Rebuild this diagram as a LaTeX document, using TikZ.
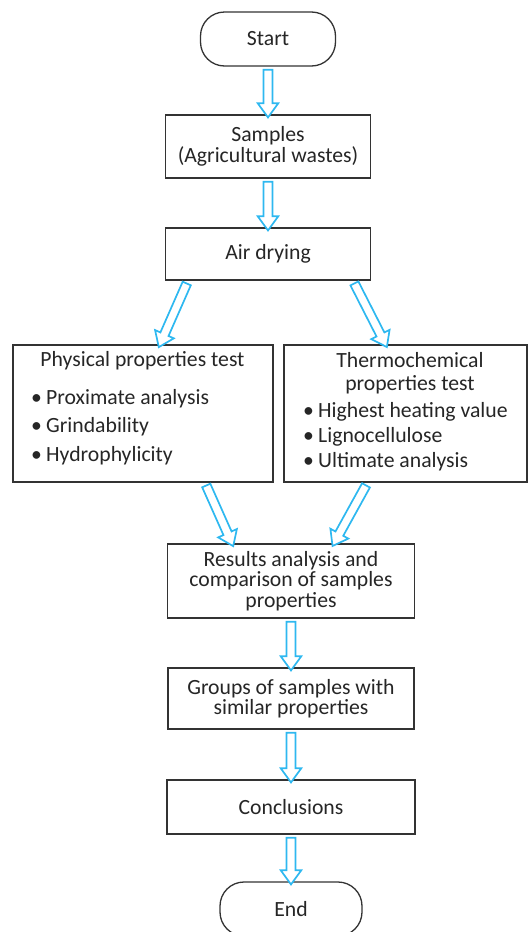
\documentclass[tikz,border=0pt]{standalone}
\usepackage{fontspec}
\setmainfont{Carlito}
\usetikzlibrary{calc,shapes.arrows}
\definecolor{arrowblue}{HTML}{2EB8F0}
\definecolor{boxline}{HTML}{333333}
\definecolor{textgray}{HTML}{262626}

\tikzset{
  box/.style={draw=boxline, line width=1.3pt, fill=white, align=center, inner sep=0pt},
  terminal/.style={box, rounded corners=24pt},
  hollow arrow/.style={single arrow, draw=arrowblue, line width=1.7pt, fill=white,
    inner sep=3.6pt, single arrow head extend=5.8pt, single arrow tip angle=72, minimum width=0pt}
}

\begin{document}
\begin{tikzpicture}[x=1pt, y=-1pt, font=\fontsize{21.7}{20.5}\selectfont, text=textgray]
          \useasboundingbox (0,0) rectangle (528,932);
          % main column
          \node[terminal, minimum width=135pt, minimum height=54pt] (start) at (268,39) {Start};
          \node[box, minimum width=205pt, minimum height=63pt] (samples) at (268,146.5) {Samples\\(Agricultural wastes)};
          \node[box, minimum width=205pt, minimum height=52pt] (air) at (268,254) {Air drying};
          % the two tests
          \node[box, minimum width=260pt, minimum height=137pt] (phys) at (143,413.5) {};
          \node (phystitle) at (142.5,361) {Physical properties test};
          \node[anchor=west, align=left, inner sep=0pt, font=\fontsize{21.7}{28.5}\selectfont] (physlist) at (31,427) {\makebox[15pt][l]{\textbullet}Proximate analysis\\\makebox[15pt][l]{\textbullet}Grindability\\\makebox[15pt][l]{\textbullet}Hydrophylicity};
          \node[box, minimum width=243pt, minimum height=137pt] (thermo) at (405.5,413.5) {};
          \node[align=center, font=\fontsize{21.7}{23}\selectfont] (thermotitle) at (410,373.5) {Thermochemical\\properties test};
          \node[anchor=west, align=left, inner sep=0pt, font=\fontsize{21.7}{25}\selectfont] (thermolist) at (303,437) {\makebox[15pt][l]{\textbullet}Highest heating value\\\makebox[15pt][l]{\textbullet}Lignocellulose\\\makebox[15pt][l]{\textbullet}Ultimate analysis};
          % lower column
          \node[box, minimum width=247pt, minimum height=74pt] (results) at (291,581) {Results analysis and\\comparison of samples\\properties};
          \node[box, minimum width=246pt, minimum height=61pt] (groups) at (291,698.5) {Groups of samples with\\similar properties};
          \node[box, minimum width=248pt, minimum height=54pt] (concl) at (291,807) {Conclusions};
          \node[terminal, minimum width=142pt, minimum height=54pt] (endn) at (291,909) {End};
          % ends of the slanted arrows
          \coordinate (airL) at ($(air.south)+(-80,0)$);
          \coordinate (airR) at ($(air.south)+(85,0)$);
          \coordinate (physIn) at ($(phys.north)+(17,0)$);
          \coordinate (thermoIn) at ($(thermo.north)+(-20,0)$);
          \coordinate (physOut) at ($(phys.south)+(62,0)$);
          \coordinate (thermoOut) at ($(thermo.south)+(-38,0)$);
          \coordinate (resultsL) at ($(results.north)+(-59,0)$);
          \coordinate (resultsR) at ($(results.north)+(43,0)$);
          % hollow arrows
          \foreach \from/\to in {start.south/samples.north, samples.south/air.north,
              airL/physIn, airR/thermoIn, physOut/resultsL, thermoOut/resultsR,
              results.south/groups.north, groups.south/concl.north, concl.south/endn.north}
            \path let \p1=(\from), \p2=(\to), \n1={atan2(\y2-\y1,\x2-\x1)}, \n2={veclen(\x2-\x1,\y2-\y1)}
              in node[hollow arrow, minimum height=\n2, rotate=\n1] at ($(\p1)!.5!(\p2)$) {};
        \end{tikzpicture}
\end{document}
